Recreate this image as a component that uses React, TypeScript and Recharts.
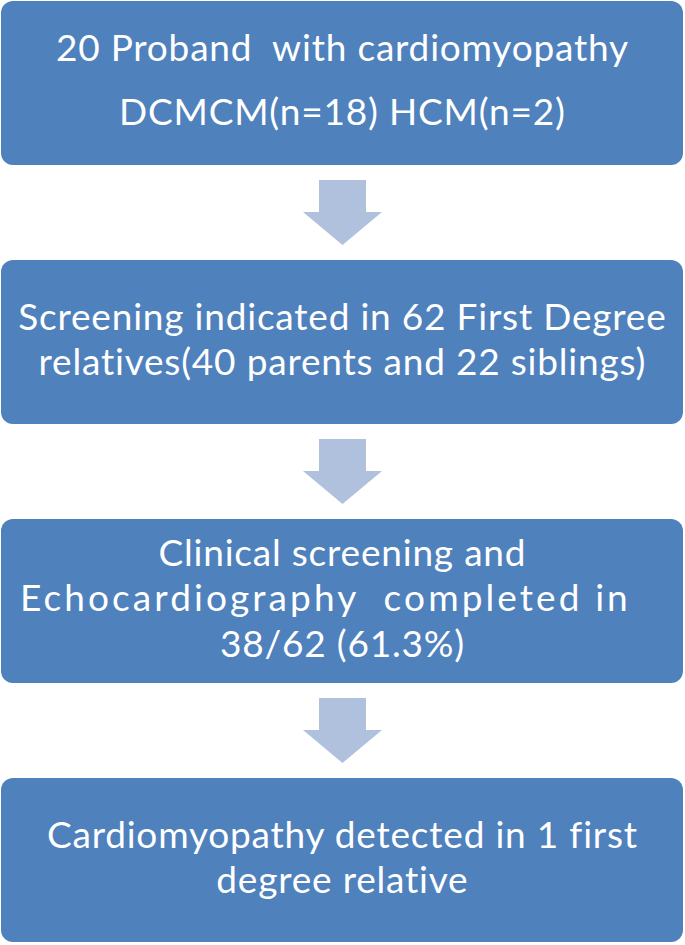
import React from "react";
import { BarChart, Bar, XAxis, YAxis } from "recharts";

// flowchart stages, top to bottom
const stageIds = ["proband", "indicated", "completed", "detected"];
const stageLines: string[][] = [
  ["20 Proband  with cardiomyopathy", "DCMCM(n=18) HCM(n=2)"],
  ["Screening indicated in 62 First Degree", "relatives(40 parents and 22 siblings)"],
  ["Clinical screening and", "Echocardiography  completed in", "38/62 (61.3%)"],
  ["Cardiomyopathy detected in 1 first", "degree relative"],
];
// every box spans the full width
const stageSpan = [1, 1, 1, 1];

const data = stageIds.map((id, i) => ({
  id,
  span: stageSpan[i],
  lines: stageLines[i],
}));

const BOX_FILL = "#4F81BD";
const ARROW_FILL = "#B0C1DE";
const FONT = 'Lato, "Open Sans", sans-serif';
const FONT_SIZE = 37;
const LETTER_SP = 0.8;
const LINE_GAP = [64, 45, 45.5, 45];
const CAP = 0.72;
const TEXT_SHIFT = -3;

const STEP = 259; // category band height
const BOX_H = 164;
const ARROW_LEN = 65;
const SHAFT_LEN = 32;
const SHAFT_W = 47;
const HEAD_W = 79;

const StageBox = (props: any) => {
  const { x, y, width, height, index, payload } = props;
  const lines: string[] = payload.lines;
  const cx = x + width / 2;
  const cy = y + height / 2;
  const gap = LINE_GAP[index];
  const first = cy + TEXT_SHIFT - (gap * (lines.length - 1)) / 2 + (FONT_SIZE * CAP) / 2;
  const isLast = index === data.length - 1;

  const aTop = y + height + (STEP - BOX_H) / 2 - ARROW_LEN / 2;
  const ax = cx + 0.5;
  const arrow = [
    [ax - SHAFT_W / 2, aTop],
    [ax + SHAFT_W / 2, aTop],
    [ax + SHAFT_W / 2, aTop + SHAFT_LEN],
    [ax + HEAD_W / 2, aTop + SHAFT_LEN],
    [ax, aTop + ARROW_LEN],
    [ax - HEAD_W / 2, aTop + SHAFT_LEN],
    [ax - SHAFT_W / 2, aTop + SHAFT_LEN],
  ]
    .map((p) => p.join(","))
    .join(" ");

  return (
    <g>
      <rect x={x} y={y} width={width} height={height} rx={12} ry={12} fill={BOX_FILL} />
      {lines.map((t, i) => {
        // the long echo line sits a little left and runs wider in the original
        const wide = index === 2 && i === 1;
        return (
          <text
            key={i}
            x={cx + LETTER_SP / 2 + (wide ? -17 : 0)}
            y={first + i * gap}
            textAnchor="middle"
            fill="#ffffff"
            fontFamily={FONT}
            fontSize={FONT_SIZE}
            letterSpacing={wide ? LETTER_SP + 2.3 : LETTER_SP}
            style={{ whiteSpace: "pre" }}
          >
            {t}
          </text>
        );
      })}
      {!isLast && <polygon points={arrow} fill={ARROW_FILL} />}
    </g>
  );
};

export default function App() {
  return (
    <div style={{ position: "relative", width: 685, height: 945, overflow: "hidden", background: "#fff" }}>
      <style>{"body{margin:0}"}</style>
      <div style={{ position: "absolute", left: 0, top: -47 }}>
        <BarChart
          width={685}
          height={STEP * data.length}
          data={data}
          layout="vertical"
          barSize={BOX_H}
          margin={{ top: 0, right: 2, bottom: 0, left: 1 }}
        >
          <XAxis type="number" domain={[0, 1]} hide />
          <YAxis type="category" dataKey="id" hide />
          <Bar dataKey="span" shape={StageBox} isAnimationActive={false} />
        </BarChart>
      </div>
    </div>
  );
}
